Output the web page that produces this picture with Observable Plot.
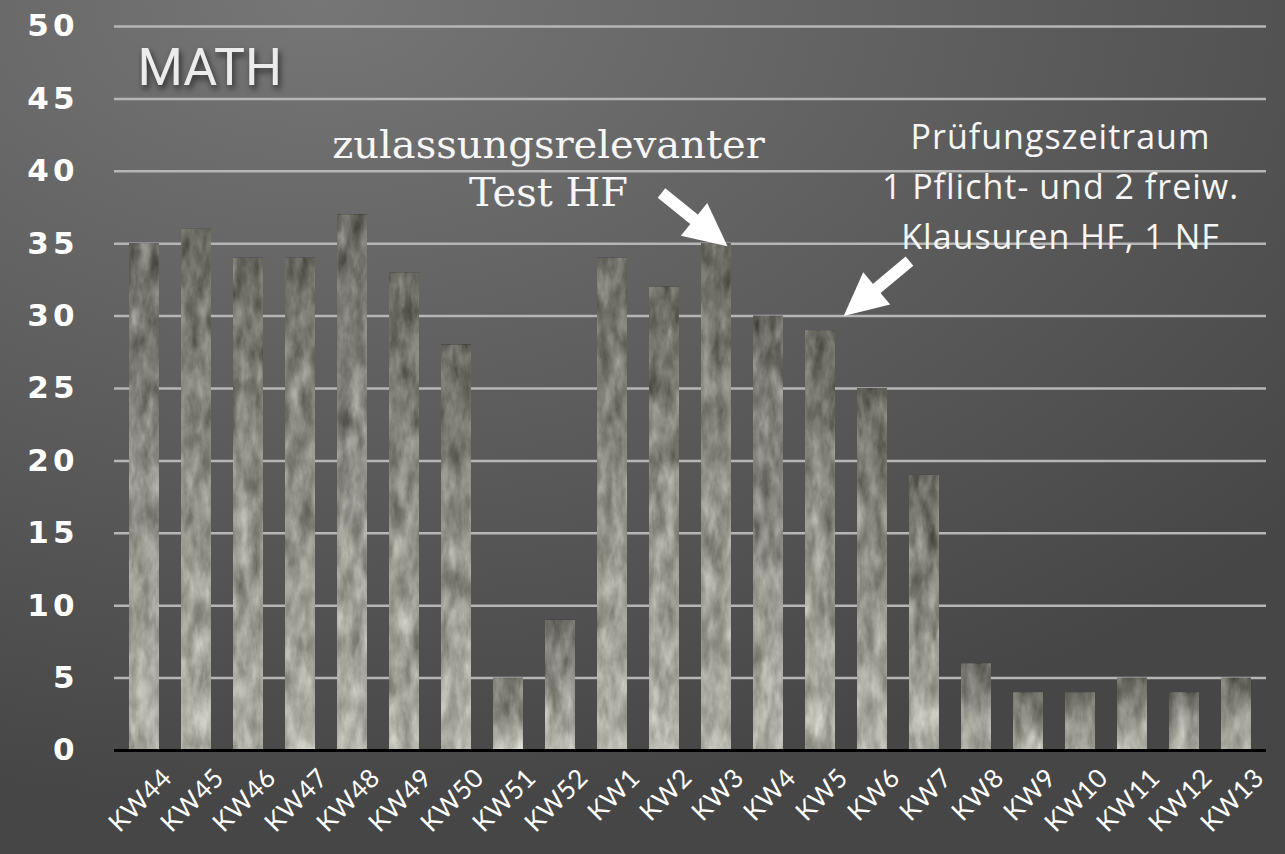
<!DOCTYPE html>
<html>
<head>
<meta charset="utf-8">
<script src="https://cdn.jsdelivr.net/npm/d3@7"></script>
<script src="https://cdn.jsdelivr.net/npm/@observablehq/plot@0.6"></script>
<style>
html, body { margin: 0; padding: 0; }
body {
  width: 1285px; height: 854px; overflow: hidden;
  background: radial-gradient(ellipse 100% 95% at 25% 0%, #767676 0%, #5e5e5e 50%, #464646 100%);
}
#chart svg { display: block; }
</style>
</head>
<body>
<div id="chart"></div>
<script>
// ---- data ----
const weeks = ["KW44","KW45","KW46","KW47","KW48","KW49","KW50","KW51","KW52",
               "KW1","KW2","KW3","KW4","KW5","KW6","KW7","KW8","KW9","KW10","KW11","KW12","KW13"];
const counts = [35,36,34,34,37,33,28,5,9,34,32,35,30,29,25,19,6,4,4,5,4,5];
const yTicks = [0,5,10,15,20,25,30,35,40,45,50];
const gridTicks = [5,10,15,20,25,30,35,40,45,50];
const titleText = "MATH";
const note1 = ["zulassungsrelevanter", "Test HF"];
const note2 = ["Prüfungszeitraum", "1 Pflicht- und 2 freiw.", "Klausuren HF, 1 NF"];
// arrows in data units (tail -> end of shaft)
const arrow1 = [{x1: "KW2", y1: 38.5, x2: "KW3", y2: 35.6}];
const arrow2 = [{x1: "KW6", y1: 33.8, x2: "KW5", y2: 30.8}];

const table = weeks.map((w, i) => ({week: w, value: counts[i]}));

function headMarker(color, context) {
  const doc = (context && context.document) || document;
  const ns = "http://www.w3.org/2000/svg";
  const m = doc.createElementNS(ns, "marker");
  m.setAttribute("viewBox", "-30 -25 50 50");
  m.setAttribute("markerWidth", 50);
  m.setAttribute("markerHeight", 50);
  m.setAttribute("markerUnits", "userSpaceOnUse");
  m.setAttribute("orient", "auto");
  m.setAttribute("refX", 0);
  m.setAttribute("refY", 0);
  const p = doc.createElementNS(ns, "path");
  p.setAttribute("d", "M-25,-21 L18,0 L-25,21 Z");
  p.setAttribute("fill", "#ffffff");
  p.setAttribute("stroke", "none");
  m.appendChild(p);
  return m;
}

function build(marker) {
  return Plot.plot({
    width: 1285,
    height: 854,
    marginLeft: 114,
    marginRight: 19,
    marginTop: 26,
    marginBottom: 104,
    style: {background: "transparent", overflow: "visible"},
    x: {domain: weeks, paddingInner: 0.42, paddingOuter: 0.2, axis: null},
    y: {domain: [0, 50], axis: null},
    marks: [
      Plot.ruleY(gridTicks, {stroke: "#b6b6b6", strokeWidth: 2.5}),
      Plot.barY(table, {x: "week", y: "value", fill: "url(#barGrad)"}),
      Plot.ruleY([0], {stroke: "#000000", strokeWidth: 3}),
      Plot.text(yTicks, {
        y: d => d, frameAnchor: "left", dx: -36, textAnchor: "end",
        text: d => String(d), fill: "#ffffff", fontSize: 31, fontWeight: "bold",
        fontFamily: "DejaVu Sans"
      }),
      Plot.text(weeks, {
        x: d => d, frameAnchor: "bottom", rotate: -45, textAnchor: "end",
        dx: 29, dy: 29, text: d => d, fill: "#ffffff", fontSize: 26,
        fontFamily: "Lato"
      }),
      Plot.text([titleText], {
        x: () => "KW44", y: () => 47.1, dx: -7, textAnchor: "start",
        text: d => d, fill: "#ececec", fontSize: 52, fontWeight: "normal",
        fontFamily: "Roboto"
      }),
      Plot.text([note1.join("\n")], {
        x: () => "KW52", y: () => 40.32, dx: -12, textAnchor: "middle",
        text: d => d, lineHeight: 1.2, fill: "#f6f6f6", fontSize: 40,
        fontFamily: "DejaVu Serif"
      }),
      Plot.text([note2.join("\n")], {
        x: () => "KW10", y: () => 39.22, dx: -20, textAnchor: "middle",
        text: d => d, lineHeight: 1.47, fill: "#f6f6f6", fontSize: 34,
        fontWeight: "normal", fontFamily: "Open Sans"
      }),
      Plot.link(arrow1, {x1: "x1", y1: "y1", x2: "x2", y2: "y2", dx: -3,
        stroke: "#ffffff", strokeWidth: 12, markerEnd: marker}),
      Plot.link(arrow2, {x1: "x1", y1: "y1", x2: "x2", y2: "y2", dx: 37,
        stroke: "#ffffff", strokeWidth: 12, markerEnd: marker})
    ]
  });
}

let svg;
try { svg = build(headMarker); } catch (e) { svg = build("arrow"); }

const root = d3.select(svg);
const defs = root.insert("defs", ":first-child");
defs.html(`
  <linearGradient id="barGrad" x1="0" y1="0" x2="0" y2="1">
    <stop offset="0" stop-color="#6a6a63"/>
    <stop offset="0.45" stop-color="#8e8d85"/>
    <stop offset="1" stop-color="#b2b1a7"/>
  </linearGradient>
  <filter id="rock" x="0" y="0" width="1" height="1" color-interpolation-filters="sRGB">
    <feTurbulence type="fractalNoise" baseFrequency="0.08 0.03" numOctaves="4" seed="7" result="noise"/>
    <feColorMatrix in="noise" type="matrix"
      values="0.333 0.333 0.333 0 0  0.333 0.333 0.333 0 0  0.333 0.333 0.333 0 0  0 0 0 0 1" result="gray"/>
    <feComposite in="SourceGraphic" in2="gray" operator="arithmetic" k1="0" k2="1" k3="0.8" k4="-0.4" result="b"/>
    <feComposite in="b" in2="SourceGraphic" operator="in"/>
  </filter>
  <filter id="shadow" x="-20%" y="-40%" width="140%" height="180%" color-interpolation-filters="sRGB">
    <feDropShadow dx="2" dy="4" stdDeviation="3" flood-color="#000" flood-opacity="0.6"/>
  </filter>
`);
root.selectAll('g[aria-label="bar"] rect').attr("filter", "url(#rock)");
const isNote2 = s => s.startsWith("Pr") || s.startsWith("1 P") || s.startsWith("Klaus");
root.selectAll("text").each(function () {
  const t = d3.select(this);
  const s = t.text();
  if (s === titleText) t.attr("filter", "url(#shadow)");
  if (/^\d+$/.test(s)) t.style("letter-spacing", "4px");
  if (/^KW/.test(s)) t.style("letter-spacing", "0.5px");
  if (isNote2(s)) t.style("letter-spacing", "1px");
});
root.selectAll("tspan").each(function () {
  const t = d3.select(this);
  if (isNote2(t.text())) t.style("letter-spacing", "1px");
});

document.getElementById("chart").appendChild(svg);
</script>
</body>
</html>
